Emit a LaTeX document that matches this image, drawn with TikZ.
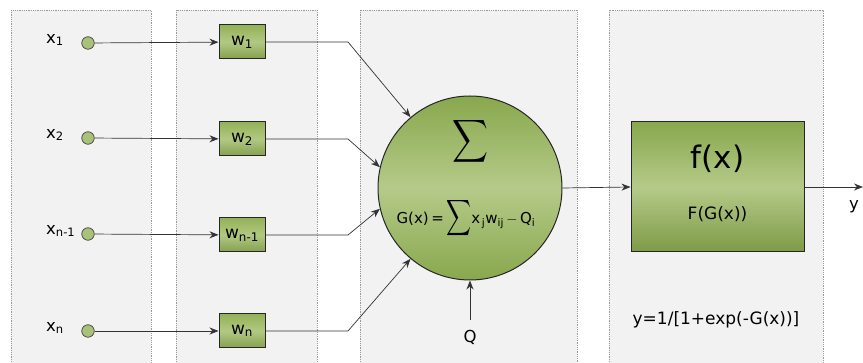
\documentclass[tikz,border=0pt]{standalone}
\usepackage{amsmath}
\usepackage{exscale}
\usepackage{fontspec}
\setmainfont{DejaVu Sans}
\usetikzlibrary{arrows.meta}
\definecolor{panelfill}{HTML}{F2F2F2}
\definecolor{panelline}{HTML}{9A9A9A}
\definecolor{gdark}{HTML}{88A84D}
\definecolor{glight}{HTML}{B5CA89}
\definecolor{wdark}{HTML}{93B257}
\definecolor{wlight}{HTML}{B2C882}
\tikzset{
  panel/.style={fill=panelfill, draw=panelline, densely dotted, line width=0.8pt},
  inputdot/.style={circle, draw=black!75, line width=0.7pt, fill=wdark!80!white, minimum size=12.5pt, inner sep=0pt},
  wbox/.style={rectangle, draw=black!85, line width=1pt, top color=wdark, bottom color=wdark!90!black, middle color=wlight, minimum width=46pt, minimum height=34pt, inner sep=0pt, font=\fontsize{17}{20}\selectfont},
  sumnode/.style={circle, draw=black!85, line width=1pt, top color=gdark, bottom color=gdark, middle color=glight, minimum size=184pt, inner sep=0pt},
  fbox/.style={rectangle, draw=black!85, line width=1pt, top color=gdark, bottom color=gdark!92!black, middle color=glight, minimum width=173pt, minimum height=130pt, inner sep=0pt},
  lbl/.style={font=\fontsize{16.5}{19}\selectfont, inner sep=0pt},
  conn/.style={draw=black!80, line width=0.7pt},
  arr/.style={conn, -{Stealth[length=9pt,width=7pt]}},
}
\begin{document}
\begin{tikzpicture}[x=1pt,y=-1pt]
\useasboundingbox (0,0) rectangle (863,363);
\clip (0,0) rectangle (863,363);
% panels
\path[panel] (11,10) rectangle (151,380);
\path[panel] (176,10) rectangle (317,380);
\path[panel] (360,10) rectangle (577,380);
\path[panel] (609,10) rectangle (823,380);
% inputs
\node[inputdot] (c1) at (88,43) {};
\node[inputdot] (c2) at (88,138) {};
\node[inputdot] (c3) at (88,234) {};
\node[inputdot] (c4) at (88,331) {};
\node[lbl, anchor=west] (l1) at (46,40) {x\textsubscript{1}};
\node[lbl, anchor=west] (l2) at (46,135) {x\textsubscript{2}};
\node[lbl, anchor=west] (l3) at (46,231) {x\textsubscript{n-1}};
\node[lbl, anchor=west] (l4) at (46,328) {x\textsubscript{n}};
% weights
\node[wbox] (w1) at (242,42) {w\textsubscript{1}};
\node[wbox] (w2) at (242,139) {w\textsubscript{2}};
\node[wbox] (w3) at (242,235) {w\textsubscript{n-1}};
\node[wbox] (w4) at (242,331) {w\textsubscript{n}};
\draw[arr] (c1) -- (w1);
\draw[arr] (c2) -- (w2);
\draw[arr] (c3) -- (w3);
\draw[arr] (c4) -- (w4);
% summation
\node[sumnode] (s) at (470,188) {};
\node[inner sep=0pt] (sig) at (470,141) {\fontsize{32.5}{40}\selectfont\scalebox{1}[1.2]{$\displaystyle\sum$}};
\node[inner sep=0pt, font=\fontsize{15}{18}\selectfont] (geq) at (466,218) {G(x)\,=\,\raisebox{-0.1ex}{\fontsize{18}{20}\selectfont\scalebox{1}[1.45]{$\displaystyle\sum$}}x\textsubscript{\,j}w\textsubscript{ij}\,$-$\,Q\textsubscript{i}};
\coordinate (b1) at (348,42);
\coordinate (b2) at (348,139);
\coordinate (b3) at (348,235);
\coordinate (b4) at (348,331);
\draw[arr] (w1.east) -- (b1) -- (s.130);
\draw[arr] (w2.east) -- (b2) -- (s.167);
\draw[arr] (w3.east) -- (b3) -- (s.193);
\draw[arr] (w4.east) -- (b4) -- (s.230);
\node[lbl] (q) at (470,337) {Q};
\coordinate (qs) at (470,320);
\draw[arr] (qs) -- (s.south);
% activation
\node[fbox] (f) at (717.5,187) {};
\node[inner sep=0pt, font=\fontsize{31}{36}\selectfont] (fx) at (717.5,159) {f(x)};
\node[inner sep=0pt, font=\fontsize{17}{20}\selectfont] (fg) at (717.5,214) {F(G(x))};
\node[inner sep=0pt, font=\fontsize{17}{20}\selectfont] (form) at (716,320) {y=1/[1+exp(-G(x))]};
\draw[arr] (s.east) -- (f.west);
\coordinate (out) at (863,187);
\draw[arr] (f.east) -- (out);
\node[lbl] (y) at (854,207) {y};
\end{tikzpicture}
\end{document}
